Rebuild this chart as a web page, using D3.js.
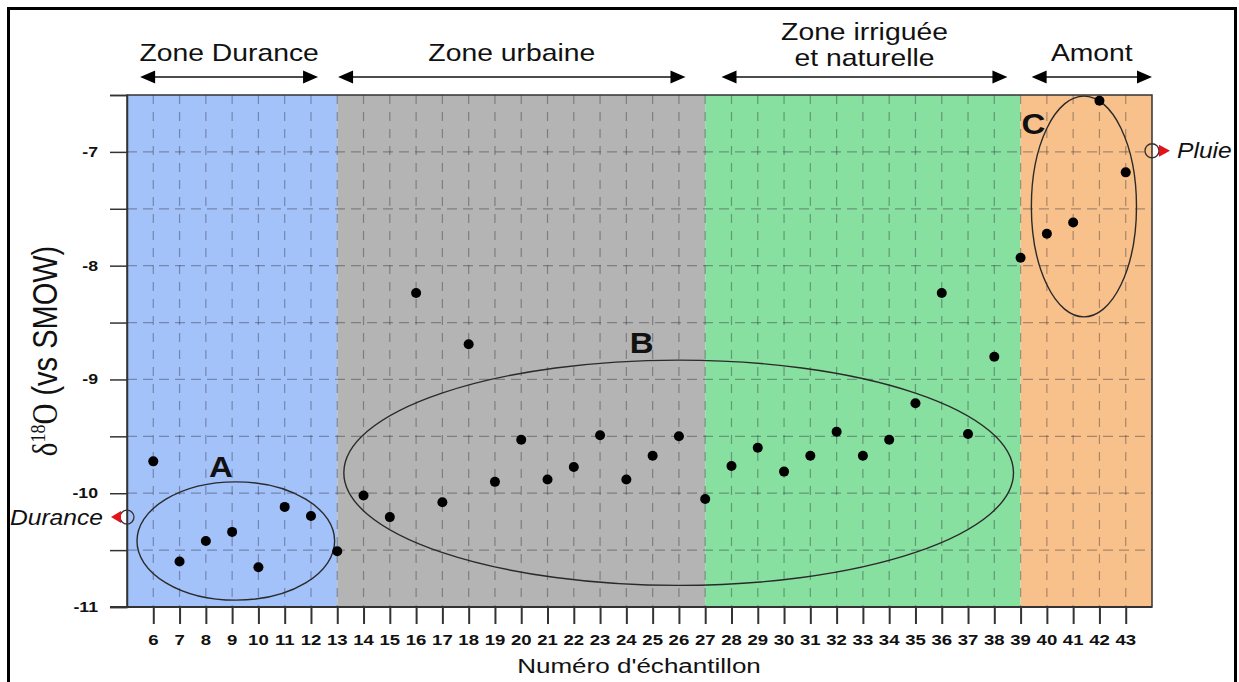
<!DOCTYPE html>
<html><head><meta charset="utf-8">
<script src="https://cdn.jsdelivr.net/npm/d3@7"></script>
<style>html,body{margin:0;padding:0;background:#fff;}svg{display:block;}</style>
</head><body>
<script>
// ---- data ----
const samples = d3.range(6, 44);
const d18O = [-9.72, -10.60, -10.42, -10.34, -10.65, -10.12, -10.20, -10.51, -10.02, -10.21,
  -8.24, -10.08, -8.69, -9.90, -9.53, -9.88, -9.77, -9.49, -9.88, -9.67, -9.50, -10.05,
  -9.76, -9.60, -9.81, -9.67, -9.46, -9.67, -9.53, -9.21, -8.24, -9.48, -8.80,
  -7.93, -7.72, -7.62, -6.55, -7.18];
const zoneNames = [["Zone Durance"], ["Zone urbaine"], ["Zone irriguée", "et naturelle"], ["Amont"]];
const zoneStart = [5, 13, 27, 39];
const zoneEnd = [13, 27, 39, 44];
const zoneColors = ["#a3c2fa", "#b4b4b4", "#87dfa0", "#f8c08a"];
const arrowStart = [5.5, 13.03, 27.62, 39.42];
const arrowEnd = [12.27, 26.25, 38.5, 44.0];
const yTicksMajor = [-11, -10, -9, -8, -7];
const yTicksMinor = [-10.5, -9.5, -8.5, -7.5, -6.5];
const groupLabels = ["A", "B", "C"];
const groupLabelX = [8.57, 24.58, 39.49];
const groupLabelY = [-9.86, -8.77, -6.84];
const ellCx = [9.14, 25.99, 41.41];
const ellCy = [-10.42, -9.82, -7.48];
const ellRx = [3.76, 12.74, 2.0];
const ellRy = [0.52, 0.99, 0.97];
const refNames = ["Durance", "Pluie"];
const refX = [5, 44];
const refY = [-10.21, -6.99];

// ---- layout ----
const W = 1239, H = 682;
const S = 1.2; // horizontal text stretch
const FONT = "'Liberation Sans', Arial, sans-serif";
const svg = d3.select("body").append("svg").attr("width", W).attr("height", H);
const x = d3.scaleLinear().domain([5, 44]).range([127, 1152]);
const y = d3.scaleLinear().domain([-11, -6.5]).range([607, 95]);

function stext(g, px, py, str, o) {
  return g.append("text")
    .attr("transform", `translate(${px},${py}) scale(${o.sx || S},1)`)
    .attr("text-anchor", o.anchor || "middle")
    .attr("font-family", FONT)
    .attr("font-size", o.size)
    .attr("font-weight", o.weight || "normal")
    .attr("font-style", o.style || "normal")
    .attr("fill", "#111")
    .text(str);
}

// frame
svg.append("rect").attr("x", 8.5).attr("y", 8.5).attr("width", 1227).attr("height", 700)
  .attr("fill", "none").attr("stroke", "#000").attr("stroke-width", 3);

// bands
svg.append("g").selectAll("rect").data(zoneStart).join("rect")
  .attr("x", (d) => x(d)).attr("width", (d, i) => x(zoneEnd[i]) - x(d))
  .attr("y", y(-6.5)).attr("height", y(-11) - y(-6.5))
  .attr("fill", (d, i) => zoneColors[i]);

// grid
const grid = svg.append("g").attr("stroke", "rgba(40,40,50,0.38)").attr("stroke-width", 1.2);
grid.selectAll("line.v").data(samples).join("line").attr("class", "v")
  .attr("x1", (d) => x(d)).attr("x2", (d) => x(d)).attr("y1", y(-6.5)).attr("y2", y(-11))
  .attr("stroke-dasharray", "9,8");
grid.selectAll("line.h").data(d3.range(-10.5, -6.9, 0.5)).join("line").attr("class", "h")
  .attr("y1", (d) => y(d)).attr("y2", (d) => y(d)).attr("x1", x(5)).attr("x2", x(44))
  .attr("stroke-dasharray", "10,6");

// plot border
svg.append("rect").attr("x", x(5)).attr("y", y(-6.5)).attr("width", x(44) - x(5)).attr("height", y(-11) - y(-6.5))
  .attr("fill", "none").attr("stroke", "#333").attr("stroke-width", 1.5);

// y axis
const yAxis = svg.append("g").attr("transform", `translate(${x(5)},0)`)
  .call(d3.axisLeft(y).tickValues(yTicksMajor.concat(yTicksMinor)).tickSize(17).tickFormat(""));
yAxis.select(".domain").attr("stroke", "#333").attr("stroke-width", 1.5);
yAxis.selectAll(".tick line").attr("stroke", "#333").attr("stroke-width", 1.5);
yTicksMajor.forEach((t) => {
  stext(svg, 98, y(t) + 5, d3.format("d")(t).replace("−", "-"), { size: 14.5, weight: "bold", anchor: "end", sx: 1.22 });
});

// x axis
const xAxis = svg.append("g").attr("transform", `translate(0,${y(-11)})`)
  .call(d3.axisBottom(x).tickValues(samples).tickSize(17).tickFormat(""));
xAxis.select(".domain").remove();
xAxis.selectAll(".tick line").attr("stroke", "#333").attr("stroke-width", 2);
svg.append("line").attr("x1", 110).attr("x2", x(44)).attr("y1", y(-11)).attr("y2", y(-11))
  .attr("stroke", "#333").attr("stroke-width", 1.8);
samples.forEach((s) => {
  stext(svg, x(s), 645, String(s), { size: 14.5, weight: "bold", sx: 1.28 });
});
stext(svg, 639, 673, "Numéro d'échantillon", { size: 21, sx: 1.24 });

// y title
const yt = svg.append("text")
  .attr("transform", "translate(57,351) rotate(-90) scale(1,1.2)")
  .attr("text-anchor", "middle").attr("font-size", 29).attr("fill", "#111");
yt.append("tspan").attr("font-family", "'Liberation Serif', serif").text("δ");
yt.append("tspan").attr("font-family", "'Liberation Serif', serif").attr("font-size", 18).attr("dy", -10).text("18");
yt.append("tspan").attr("font-family", "'Liberation Serif', serif").attr("dy", 10).text("O");
yt.append("tspan").attr("font-family", FONT).text(" (vs SMOW)");

// zone headers and arrows
const hdr = svg.append("g");
zoneNames.forEach((lines, i) => {
  const cx = (x(arrowStart[i]) + x(arrowEnd[i])) / 2;
  if (lines.length === 1) {
    stext(hdr, cx, 61, lines[0], { size: 24, sx: 1.18 });
  } else {
    stext(hdr, cx, 40, lines[0], { size: 24, sx: 1.18 });
    stext(hdr, cx, 66, lines[1], { size: 24, sx: 1.18 });
  }
  const ay = 77, x1 = x(arrowStart[i]), x2 = x(arrowEnd[i]);
  hdr.append("line").attr("x1", x1 + 10).attr("x2", x2 - 10).attr("y1", ay).attr("y2", ay)
    .attr("stroke", "#111").attr("stroke-width", 1.6);
  hdr.append("path").attr("d", `M${x1},${ay} L${x1 + 15},${ay - 6.5} L${x1 + 15},${ay + 6.5} Z`).attr("fill", "#000");
  hdr.append("path").attr("d", `M${x2},${ay} L${x2 - 15},${ay - 6.5} L${x2 - 15},${ay + 6.5} Z`).attr("fill", "#000");
});

// ellipses
svg.append("g").selectAll("ellipse").data(ellCx).join("ellipse")
  .attr("cx", (d) => x(d)).attr("cy", (d, i) => y(ellCy[i]))
  .attr("rx", (d, i) => x(d + ellRx[i]) - x(d)).attr("ry", (d, i) => y(ellCy[i] - ellRy[i]) - y(ellCy[i]))
  .attr("fill", "none").attr("stroke", "#2a2a2a").attr("stroke-width", 1.4);

// group labels
groupLabels.forEach((l, i) => {
  stext(svg, x(groupLabelX[i]), y(groupLabelY[i]), l, { size: 30, weight: "bold", sx: 1.1 });
});

// points
svg.append("g").selectAll("circle").data(samples).join("circle")
  .attr("cx", (d) => x(d)).attr("cy", (d, i) => y(d18O[i])).attr("r", 5).attr("fill", "#000");

// reference markers
refNames.forEach((n, i) => {
  const px = x(refX[i]), py = y(refY[i]);
  svg.append("circle").attr("cx", px).attr("cy", py).attr("r", 7).attr("fill", "none")
    .attr("stroke", "#333").attr("stroke-width", 1.3);
  if (i === 0) {
    svg.append("path").attr("d", `M${px - 16},${py} L${px - 6},${py - 6} L${px - 6},${py + 6} Z`).attr("fill", "#e0141a");
    stext(svg, px - 24, py + 8, n, { size: 22, style: "italic", anchor: "end", sx: 1.12 });
  } else {
    svg.append("path").attr("d", `M${px + 18},${py} L${px + 7},${py - 6} L${px + 7},${py + 6} Z`).attr("fill", "#e0141a");
    stext(svg, px + 25, py + 7, n, { size: 22, style: "italic", anchor: "start", sx: 1.12 });
  }
});
</script>
</body></html>
